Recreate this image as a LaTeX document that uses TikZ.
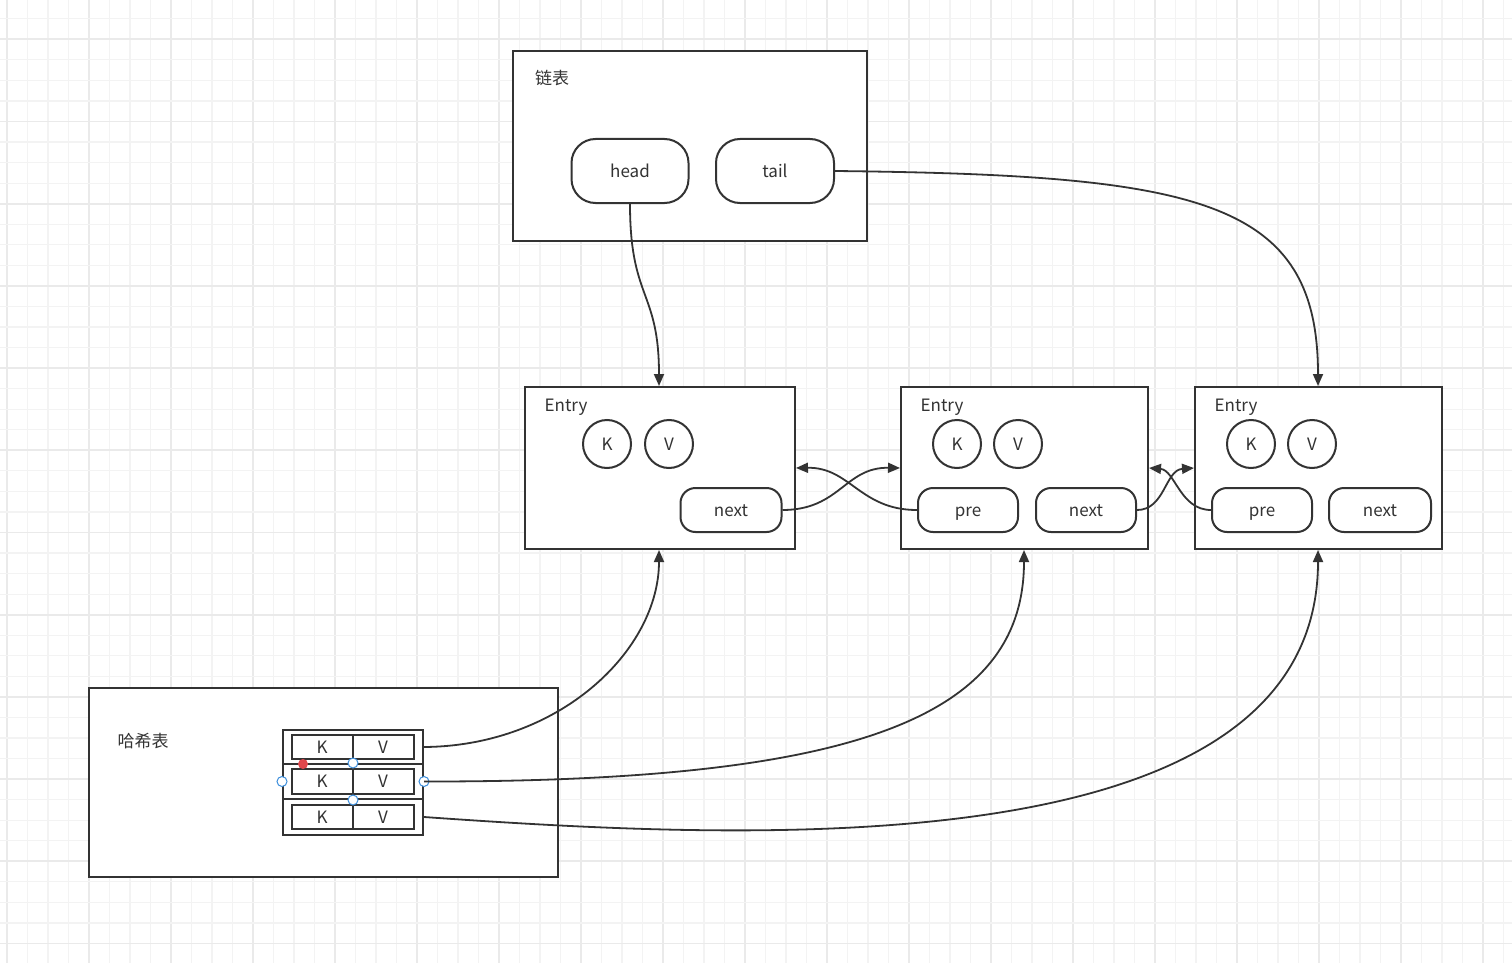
\documentclass[tikz,border=0pt]{standalone}
\usepackage{fontspec}
\setmainfont{Noto Sans CJK SC}
\usetikzlibrary{arrows.meta}
\definecolor{linegray}{HTML}{333333}
\definecolor{gridminor}{HTML}{F3F3F3}
\definecolor{gridmajor}{HTML}{EAEAEA}
\definecolor{handleblue}{HTML}{3C8EDC}
\definecolor{handlered}{HTML}{E0474C}

\begin{document}
\begin{tikzpicture}[x=1pt, y=-1pt,
        font=\fontsize{17}{20}\selectfont, text=linegray,
        frame/.style={draw=linegray, line width=2pt, fill=white, inner sep=0pt},
        pill/.style={draw=linegray, line width=2pt, fill=white, inner sep=0pt, rounded corners=#1, text height=14pt, text depth=2pt},
        circ/.style={circle, draw=linegray, line width=2pt, minimum size=48pt, inner sep=0pt},
        cell/.style={draw=linegray, line width=2pt, minimum width=61pt, minimum height=24.5pt, inner sep=0pt},
        conn/.style={draw=linegray, line width=1.8pt, -{Triangle[length=12pt,width=10pt]}},
        handle/.style={draw=handleblue, fill=white, line width=1pt}]

        % 背景网格
        \useasboundingbox (0,0) rectangle (1512,963);
        \fill[white] (0,0) rectangle (1512,963);
        \foreach \i in {0,...,73} {
            \pgfmathsetmacro\gx{7+20.5*\i}
            \pgfmathtruncatemacro\m{mod(\i,4)}
            \ifnum\m=0 \draw[gridmajor, line width=1.8pt] (\gx,0) -- (\gx,963);
            \else \draw[gridminor, line width=1.2pt] (\gx,0) -- (\gx,963); \fi
        }
        \foreach \i in {-1,...,45} {
            \pgfmathsetmacro\gy{39.3+20.55*\i}
            \pgfmathtruncatemacro\m{mod(\i,4)}
            \ifnum\m=0 \draw[gridmajor, line width=1.8pt] (0,\gy) -- (1512,\gy);
            \else \draw[gridminor, line width=1.2pt] (0,\gy) -- (1512,\gy); \fi
        }

        % 链表
        \node[frame, anchor=north west, minimum width=354pt, minimum height=190pt] (list) at (512,50) {};
        \node (listlabel) at (552,78) {链表};
        \node[pill=24pt, minimum width=117pt, minimum height=64pt] (head) at (630,171) {head};
        \node[pill=24pt, minimum width=118pt, minimum height=64pt] (tail) at (775,171) {tail};

        % Entry 1
        \node[frame, anchor=north west, minimum width=270pt, minimum height=162pt] (e1) at (524,386) {};
        \node (e1label) at (566,407) {Entry};
        \node[circ] (k1) at (607,444) {K};
        \node[circ] (v1) at (669,444) {V};
        \node[pill=15pt, minimum width=101pt, minimum height=44pt] (next1) at (731,510) {next};

        % Entry 2
        \node[frame, anchor=north west, minimum width=247pt, minimum height=162pt] (e2) at (900,386) {};
        \node (e2label) at (942,407) {Entry};
        \node[circ] (k2) at (957,444) {K};
        \node[circ] (v2) at (1018,444) {V};
        \node[pill=15pt, minimum width=100pt, minimum height=44pt] (pre2) at (968,510) {pre};
        \node[pill=15pt, minimum width=100pt, minimum height=44pt] (next2) at (1086,510) {next};

        % Entry 3
        \node[frame, anchor=north west, minimum width=247pt, minimum height=162pt] (e3) at (1194,386) {};
        \node (e3label) at (1236,407) {Entry};
        \node[circ] (k3) at (1251,444) {K};
        \node[circ] (v3) at (1312,444) {V};
        \node[pill=15pt, minimum width=100pt, minimum height=44pt] (pre3) at (1262,510) {pre};
        \node[pill=15pt, minimum width=102pt, minimum height=44pt] (next3) at (1380,510) {next};

        % 哈希表
        \node[frame, anchor=north west, minimum width=469pt, minimum height=189pt] (hash) at (88,687) {};
        \node (hashlabel) at (143,741) {哈希表};
        \node[frame, minimum width=140pt, minimum height=34pt] (r1) at (353,747) {};
        \node[frame, minimum width=140pt, minimum height=35pt] (r2) at (353,781.5) {};
        \node[frame, minimum width=140pt, minimum height=36pt] (r3) at (353,817) {};
        \node[cell] (hk1) at (322,747) {K};
        \node[cell] (hv1) at (383,747) {V};
        \node[cell] (hk2) at (322,781.5) {K};
        \node[cell] (hv2) at (383,781.5) {V};
        \node[cell] (hk3) at (322,817) {K};
        \node[cell] (hv3) at (383,817) {V};

        % 选中手柄
        \draw[handle] (r2.west) circle (5pt);
        \draw[handle] (r2.east) circle (5pt);
        \draw[handle] (r2.north) circle (5pt);
        \draw[handle] (r2.south) circle (5pt);
        \fill[handlered] (303,764) circle (5pt);

        % 连线
        \draw[conn] (head.south) .. controls (630,300) and (659,290) .. (e1.north-|659,0);
        \draw[conn] (tail.east) .. controls (1200,175) and (1318,200) .. (e3.north-|1318,0);
        \draw[conn] (next1.east) .. controls (840,510) and (845,467) .. (e2.west);
        \draw[conn] (pre2.west) .. controls (860,510) and (850,467) .. (e1.east);
        \draw[conn] (next2.east) .. controls (1165,510) and (1165,470) .. (e3.west);
        \draw[conn] (pre3.west) .. controls (1180,510) and (1175,470) .. (e2.east);
        \draw[conn] (r1.east) .. controls (560,746) and (659,650) .. (e1.south-|659,0);
        \draw[conn] (r2.east) .. controls (850,782) and (1024,720) .. (e2.south-|1024,0);
        \draw[conn] (r3.east) .. controls (750,840) and (1318,870) .. (e3.south-|1318,0);
    \end{tikzpicture}
\end{document}
